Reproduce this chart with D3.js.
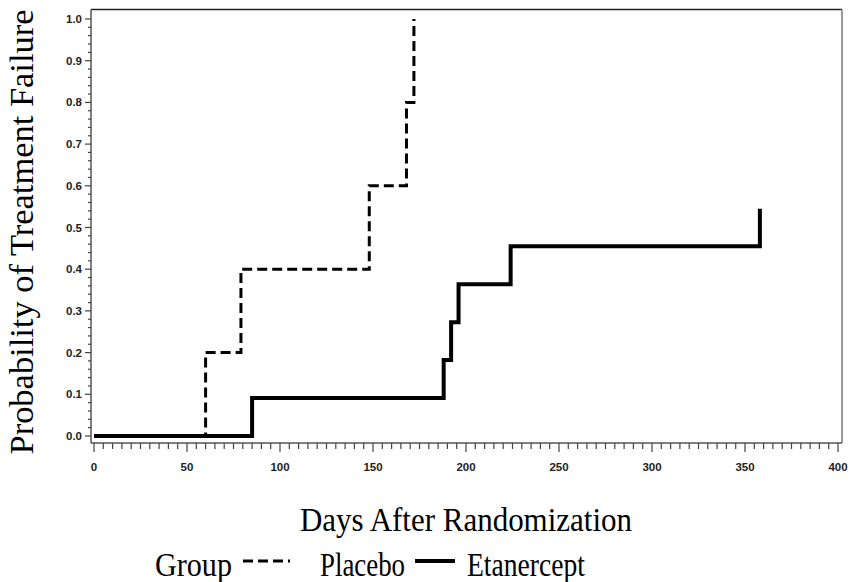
<!DOCTYPE html>
<html>
<head>
<meta charset="utf-8">
<script src="https://cdn.jsdelivr.net/npm/d3@7"></script>
<style>
  body { margin: 0; background: #fff; }
  text { fill: #000; }
</style>
</head>
<body>
<div id="chart"></div>
<script>
// Kaplan-Meier style failure curves
var placeboDays = [0, 60, 79, 148, 168, 172];
var placeboProb = [0, 0.2, 0.4, 0.6, 0.8, 1.0];
var etanerceptDays = [0, 85, 188, 192, 196, 224, 358];
var etanerceptProb = [0, 0.091, 0.182, 0.273, 0.364, 0.455, 0.545];

var xTicks = [0, 50, 100, 150, 200, 250, 300, 350, 400];
var yTicks = [0, 0.1, 0.2, 0.3, 0.4, 0.5, 0.6, 0.7, 0.8, 0.9, 1.0];

var width = 851, height = 582;
var svg = d3.select("#chart").append("svg")
  .attr("width", width)
  .attr("height", height);

var x = d3.scaleLinear().domain([0, 400]).range([94, 838]);
var y = d3.scaleLinear().domain([0, 1]).range([436, 19]);

var frameL = 91, frameR = 842, frameT = 9.5, frameB = 443;

// frame
svg.append("line").attr("x1", frameL).attr("x2", frameR).attr("y1", frameT).attr("y2", frameT)
  .attr("stroke", "#222").attr("stroke-width", 1.5);
svg.append("line").attr("x1", frameR).attr("x2", frameR).attr("y1", frameT).attr("y2", frameB)
  .attr("stroke", "#777").attr("stroke-width", 1.5);

// x axis
var xAxis = svg.append("g").attr("transform", "translate(0," + frameB + ")");
xAxis.append("line").attr("x1", frameL).attr("x2", frameR).attr("stroke", "#555").attr("stroke-width", 1.5);
xAxis.selectAll(".minor")
  .data(d3.range(0, 401, 5))
  .enter().append("line")
  .attr("x1", d => x(d)).attr("x2", d => x(d))
  .attr("y1", 0).attr("y2", d => d % 50 === 0 ? 9 : 6)
  .attr("stroke", "#444").attr("stroke-width", 1.2);
xAxis.selectAll(".lbl")
  .data(xTicks)
  .enter().append("text")
  .attr("x", d => x(d)).attr("y", 28)
  .attr("text-anchor", "middle")
  .style("font-family", "Liberation Sans, Arial, sans-serif")
  .style("font-size", "11.5px")
  .style("font-weight", "bold")
  .style("fill", "#222")
  .text(d => d);

// y axis
var yAxis = svg.append("g");
yAxis.append("line").attr("x1", frameL).attr("x2", frameL).attr("y1", frameT).attr("y2", frameB)
  .attr("stroke", "#555").attr("stroke-width", 1.5);
yAxis.selectAll(".minor")
  .data(d3.range(0, 51))
  .enter().append("line")
  .attr("x1", frameL).attr("x2", d => frameL - (d % 5 === 0 ? 6 : 3))
  .attr("y1", d => y(d / 50)).attr("y2", d => y(d / 50))
  .attr("stroke", "#444").attr("stroke-width", 1.2);
yAxis.selectAll(".lbl")
  .data(yTicks)
  .enter().append("text")
  .attr("x", 82).attr("y", d => y(d) + 4)
  .attr("text-anchor", "end")
  .style("font-family", "Liberation Sans, Arial, sans-serif")
  .style("font-size", "11.5px")
  .style("font-weight", "bold")
  .style("fill", "#222")
  .text(d => d.toFixed(1));

// curves
var line = d3.line()
  .x(d => x(d[0]))
  .y(d => y(d[1]))
  .curve(d3.curveStepAfter);

svg.append("path")
  .datum(d3.zip(etanerceptDays, etanerceptProb))
  .attr("d", line)
  .attr("fill", "none")
  .attr("stroke", "#000")
  .attr("stroke-width", 4);

svg.append("path")
  .datum(d3.zip(placeboDays, placeboProb))
  .attr("d", line)
  .attr("fill", "none")
  .attr("stroke", "#000")
  .attr("stroke-width", 3)
  .attr("stroke-dasharray", "10,5");

// titles
var serif = "Liberation Serif, Times New Roman, serif";
svg.append("text")
  .attr("x", 466).attr("y", 531)
  .attr("text-anchor", "middle")
  .attr("textLength", 332).attr("lengthAdjust", "spacingAndGlyphs")
  .style("font-family", serif).style("font-size", "34px")
  .text("Days After Randomization");

svg.append("text")
  .attr("transform", "translate(33,232) rotate(-90)")
  .attr("text-anchor", "middle")
  .attr("textLength", 445).attr("lengthAdjust", "spacingAndGlyphs")
  .style("font-family", serif).style("font-size", "34px")
  .text("Probability of Treatment Failure");

// legend
var legend = svg.append("g");
legend.append("text").attr("x", 155).attr("y", 576)
  .attr("textLength", 77).attr("lengthAdjust", "spacingAndGlyphs")
  .style("font-family", serif).style("font-size", "34px").text("Group");
legend.append("line").attr("x1", 243).attr("x2", 290).attr("y1", 561).attr("y2", 561)
  .attr("stroke", "#000").attr("stroke-width", 3).attr("stroke-dasharray", "10,5");
legend.append("text").attr("x", 320).attr("y", 576)
  .attr("textLength", 85).attr("lengthAdjust", "spacingAndGlyphs")
  .style("font-family", serif).style("font-size", "34px").text("Placebo");
legend.append("line").attr("x1", 415).attr("x2", 455).attr("y1", 561).attr("y2", 561)
  .attr("stroke", "#000").attr("stroke-width", 4);
legend.append("text").attr("x", 467).attr("y", 576)
  .attr("textLength", 118).attr("lengthAdjust", "spacingAndGlyphs")
  .style("font-family", serif).style("font-size", "34px").text("Etanercept");
</script>
</body>
</html>
